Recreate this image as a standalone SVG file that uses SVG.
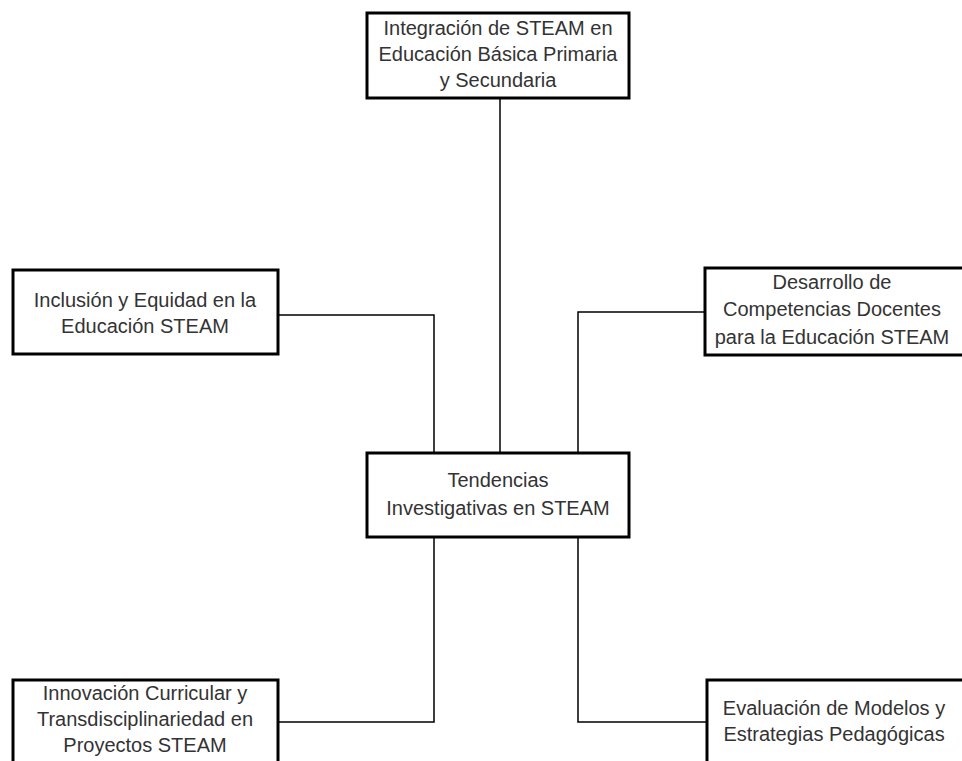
<svg xmlns="http://www.w3.org/2000/svg" width="962" height="761" viewBox="0 0 962 761">
<style>
.box{fill:#fff;stroke:#000;stroke-width:3}
.t{font-family:"Liberation Sans",Arial,sans-serif;font-size:20px;fill:#333;text-anchor:middle}
.c{fill:none;stroke:#000;stroke-width:1.5}
</style>
<rect width="962" height="761" fill="#fff"/>
<g id="connectors">
<path class="c" d="M500 98 V453"/>
<path class="c" d="M278 315 H434 V453"/>
<path class="c" d="M705 312 H578 V453"/>
<path class="c" d="M434 537 V722 H278"/>
<path class="c" d="M578 537 V722 H707"/>
</g>
<g id="n_top">
<rect class="box" x="367" y="13" width="262" height="85"/>
<text class="t" x="498" y="35">Integración de STEAM en</text>
<text class="t" x="498" y="61">Educación Básica Primaria</text>
<text class="t" x="498" y="87">y Secundaria</text>
</g>
<g id="n_left">
<rect class="box" x="13" y="270" width="265" height="84"/>
<text class="t" x="145" y="307">Inclusión y Equidad en la</text>
<text class="t" x="145" y="333">Educación STEAM</text>
</g>
<g id="n_right">
<rect class="box" x="705" y="268" width="262" height="87"/>
<text class="t" x="832" y="289">Desarrollo de</text>
<text class="t" x="832" y="316">Competencias Docentes</text>
<text class="t" x="832" y="344">para la Educación STEAM</text>
</g>
<g id="n_center">
<rect class="box" x="367" y="453" width="262" height="84"/>
<text class="t" x="498" y="487">Tendencias</text>
<text class="t" x="498" y="515">Investigativas en STEAM</text>
</g>
<g id="n_bl">
<rect class="box" x="13" y="680" width="265" height="85"/>
<text class="t" x="145" y="700">Innovación Curricular y</text>
<text class="t" x="145" y="726">Transdisciplinariedad en</text>
<text class="t" x="145" y="752">Proyectos STEAM</text>
</g>
<g id="n_br">
<rect class="box" x="707" y="680" width="262" height="85"/>
<text class="t" x="834" y="715">Evaluación de Modelos y</text>
<text class="t" x="834" y="741">Estrategias Pedagógicas</text>
</g>
</svg>
